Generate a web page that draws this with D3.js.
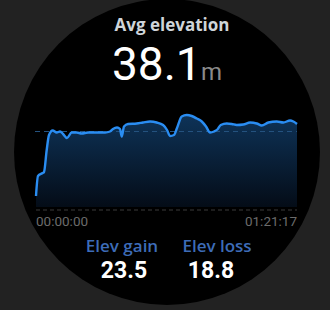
<!DOCTYPE html>
<html>
<head>
<meta charset="utf-8">
<script src="https://cdn.jsdelivr.net/npm/d3@7"></script>
<style>
  html, body { margin: 0; padding: 0; background: #222222; }
  svg { display: block; }
</style>
</head>
<body>
<div id="chart"></div>
<script>
// elapsed seconds and elevation (m)
const seconds = [0, 37, 125, 150, 200, 243, 312, 387, 449, 505, 579, 667, 761, 854, 972, 1134, 1290, 1383, 1439, 1514, 1570, 1602, 1645, 1720, 1882, 2000, 2131, 2256, 2374, 2448, 2504, 2579, 2635, 2723, 2817, 2910, 3004, 3097, 3177, 3252, 3327, 3389, 3452, 3564, 3658, 3751, 3874, 4000, 4125, 4218, 4342, 4499, 4622, 4747, 4809, 4877];
const elevation = [25.2, 29.2, 29.8, 30.0, 34.4, 37.4, 38.3, 37.9, 38.1, 37.6, 36.8, 37.9, 37.9, 37.7, 37.9, 37.9, 37.9, 38.1, 38.6, 38.9, 38.6, 37.1, 39.1, 39.6, 39.7, 39.9, 40.1, 39.9, 39.4, 38.4, 37.2, 37.4, 38.8, 41.1, 41.4, 41.2, 40.7, 40.1, 39.1, 37.9, 38.1, 38.5, 39.4, 39.7, 39.6, 39.4, 39.5, 39.9, 39.7, 39.3, 39.9, 40.1, 39.9, 40.3, 40.1, 39.6];
const avgElevation = 38.1;
const timeLabels = ['00:00:00', '01:21:17'];
const statLabels = ['Elev gain', 'Elev loss'];
const statValues = ['23.5', '18.8'];

const width = 330, height = 310;

const svg = d3.select('#chart').append('svg')
    .attr('width', width)
    .attr('height', height);

// 表盘背景
svg.append('rect').attr('width', width).attr('height', height).attr('fill', '#222222');
svg.append('circle').attr('cx', 167).attr('cy', 152).attr('r', 153).attr('fill', '#000');

const x = d3.scaleLinear().domain([0, 4877]).range([36, 297]);
const y = d3.scaleLinear().domain([23, 45]).range([207, 97]);

const defs = svg.append('defs');
const grad = defs.append('linearGradient').attr('id', 'fillGrad')
    .attr('x1', 0).attr('y1', 0).attr('x2', 0).attr('y2', 1);
grad.append('stop').attr('offset', '0%').attr('stop-color', '#0e3358');
grad.append('stop').attr('offset', '100%').attr('stop-color', '#040c17');

const pts = seconds.map((s, i) => [s, elevation[i]]);

const area = d3.area()
    .x(d => x(d[0]))
    .y0(y(23))
    .y1(d => y(d[1]))
    .curve(d3.curveMonotoneX);
svg.append('path').datum(pts).attr('d', area).attr('fill', 'url(#fillGrad)');

// 平均线
svg.append('line')
    .attr('x1', 35).attr('x2', 297)
    .attr('y1', y(avgElevation)).attr('y2', y(avgElevation))
    .attr('stroke', '#24527f').attr('stroke-width', 1.2)
    .attr('stroke-dasharray', '5,4');

const line = d3.line()
    .x(d => x(d[0]))
    .y(d => y(d[1]))
    .curve(d3.curveMonotoneX);
svg.append('path').datum(pts).attr('d', line)
    .attr('fill', 'none').attr('stroke', '#2a8df2').attr('stroke-width', 2.4)
    .attr('stroke-linejoin', 'round');

// 底部虚线
svg.append('line')
    .attr('x1', 36).attr('x2', 297)
    .attr('y1', 210).attr('y2', 210)
    .attr('stroke', '#3a3a3a').attr('stroke-width', 1)
    .attr('stroke-dasharray', '4,3');

// 时间标签
svg.append('text').attr('x', 36).attr('y', 226)
    .attr('font-family', 'Roboto').attr('font-size', 13.5).attr('fill', '#6b6b6b')
    .text(timeLabels[0]);
svg.append('text').attr('x', 297).attr('y', 226).attr('text-anchor', 'end')
    .attr('font-family', 'Roboto').attr('font-size', 13.5).attr('fill', '#6b6b6b')
    .text(timeLabels[1]);

// 标题和平均值
svg.append('text').attr('x', 172).attr('y', 31).attr('text-anchor', 'middle')
    .attr('font-family', 'Open Sans').attr('font-weight', 700).attr('font-size', 17)
    .attr('fill', '#cfd5d9').text('Avg elevation');

svg.append('text').attr('x', 112).attr('y', 80)
    .attr('font-family', 'Roboto').attr('font-size', 46).attr('fill', '#ffffff')
    .text(avgElevation.toFixed(1));
svg.append('text').attr('x', 201).attr('y', 80)
    .attr('font-family', 'Roboto').attr('font-size', 24).attr('fill', '#8a8a8a')
    .text('m');

// 爬升 / 下降
const statX = [122, 217];
const valueX = [124, 211];
statLabels.forEach((lab, i) => {
    svg.append('text').attr('x', statX[i]).attr('y', 252).attr('text-anchor', 'middle')
        .attr('font-family', 'Open Sans').attr('font-weight', 600).attr('font-size', 17)
        .attr('fill', '#3d6cb8').text(lab);
    svg.append('text').attr('x', valueX[i]).attr('y', 278).attr('text-anchor', 'middle')
        .attr('font-family', 'Roboto').attr('font-weight', 700).attr('font-size', 23)
        .attr('fill', '#ffffff').text(statValues[i]);
});
</script>
</body>
</html>
